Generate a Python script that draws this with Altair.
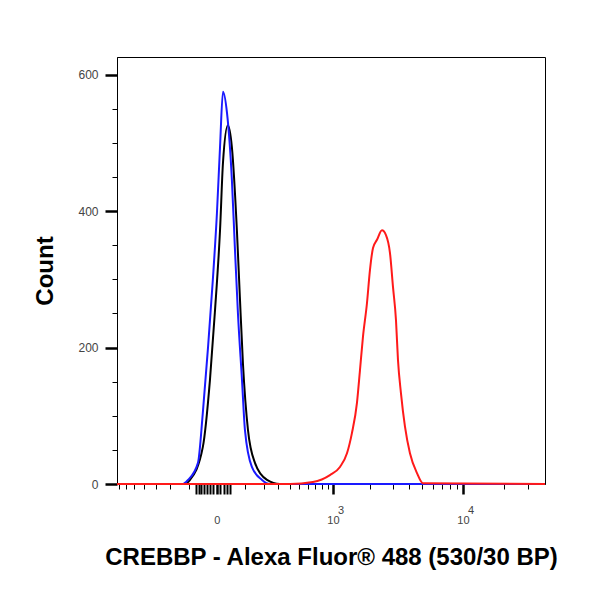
import altair as alt
import pandas as pd

# Histogram outlines (x: fluorescence, count: events)
black_x = [-726, -120, -96, -45, -21, -6, 9, 18, 34, 48, 67, 79, 92, 115, 150, 221, 315, 39680]
black_y = [0, 0, 6, 54, 152, 251, 372, 471, 526, 494, 372, 274, 177, 79, 31, 6, 0, 0]

blue_x = [-726, -130, -105, -63, -45, -27, -12, 0, 9, 18, 31, 48, 59, 71, 88, 101, 134, 190, 240, 39680]
blue_y = [0, 0, 6, 31, 104, 201, 299, 397, 494, 575, 544, 446, 348, 251, 152, 79, 25, 6, 0, 0]

red_x = [-726, 403, 669, 944, 1146, 1309, 1437, 1576, 1666, 1760, 1892, 1998, 2110, 2266,
         2477, 2659, 2853, 3009, 3172, 3284, 3461, 3711, 4046, 4568, 5064, 39680]
red_y = [0, 0, 3, 13, 25, 45, 75, 119, 167, 216, 265, 314, 346, 358,
         372, 365, 339, 289, 240, 182, 133, 84, 45, 16, 1, 0]

# axis ticks
x_major = [0, 1000, 10000]
x_major_labels = ["0", "10", "10"]
x_exp_values = [1000, 10000]
x_exp_labels = ["3", "4"]
x_minor = [-700, -600, -500, -400, -300, -200, -100,
           -70, -60, -50, -40, -30, -20, -10, 10, 20, 30, 40,
           100, 200, 300, 400, 500, 600, 700, 800, 900,
           2000, 3000, 4000, 5000, 6000, 7000, 8000, 9000,
           20000, 30000]
y_ticks = [0, 50, 100, 150, 200, 250, 300, 350, 400, 450, 500, 550, 600]
y_major = [0, 200, 400, 600]

label_font = "Liberation Sans"
H = 427

x_scale = alt.Scale(type="symlog", constant=170, domain=[-726, 39680], nice=False)
y_scale = alt.Scale(domain=[0, 626], nice=False)

label_expr = " : ".join(
    f"datum.value == {v} ? '{t}'" for v, t in zip(x_major, x_major_labels)
) + " : ''"
x_big = " || ".join(f"datum.value == {v}" for v in x_major)
x_mid = "abs(datum.value) < 100"
y_big = " || ".join(f"datum.value == {v}" for v in y_major)

x_axis = alt.Axis(
    title="CREBBP - Alexa Fluor® 488 (530/30 BP)",
    values=x_major + x_minor,
    labelExpr=label_expr,
    labelOverlap=False,
    grid=False,
    tickSize={"condition": {"test": f"{x_big} || {x_mid}", "value": 10}, "value": 5},
    tickWidth={"condition": [{"test": x_big, "value": 2.5}, {"test": x_mid, "value": 2}], "value": 1},
    labelPadding=20,
    titlePadding=20,
)
y_axis = alt.Axis(
    title="Count",
    values=y_ticks,
    labelExpr=f"({y_big}) ? datum.label : ''",
    labelOverlap=False,
    grid=False,
    tickSize={"condition": {"test": y_big, "value": 12}, "value": 5},
    tickWidth={"condition": {"test": y_big, "value": 2.5}, "value": 1},
    labelPadding=7,
    titlePadding=20,
)


def outline(xs, ys, colour):
    df = pd.DataFrame({"x": xs, "count": ys})
    return alt.Chart(df).mark_line(color=colour, strokeWidth=2, interpolate="monotone").encode(
        x=alt.X("x:Q", scale=x_scale, axis=x_axis),
        y=alt.Y("count:Q", scale=y_scale, axis=y_axis),
    )


# superscript exponents of the 10^n tick labels
exponents = alt.Chart(pd.DataFrame({"x": x_exp_values, "exp": x_exp_labels})).mark_text(
    font=label_font, fontSize=11, color="#444444", baseline="alphabetic", align="left", dx=5
).encode(
    x=alt.X("x:Q", scale=x_scale, axis=x_axis),
    y=alt.value(H + 30),
    text="exp:N",
)

chart = (
    alt.layer(
        outline(black_x, black_y, "#000000"),
        outline(blue_x, blue_y, "#1a1aff"),
        outline(red_x, red_y, "#ff1a1a"),
        exponents,
    )
    .properties(
        width=428,
        height=H,
        autosize=alt.AutoSizeParams(type="none"),
        padding={"left": 109, "top": 49, "right": 40, "bottom": 90},
    )
    .configure_view(stroke="#000000", strokeWidth=1)
    .configure_axis(
        domainColor="#000000",
        domainWidth=1,
        tickColor="#000000",
        labelFont=label_font,
        labelFontSize=11,
        labelColor="#444444",
        titleFont=label_font,
        titleFontSize=24,
        titleFontWeight="bold",
        titleColor="#000000",
    )
    .configure_axisY(labelFontSize=12)
)

chart.save("out.html", embed_options={"renderer": "svg", "actions": False})
